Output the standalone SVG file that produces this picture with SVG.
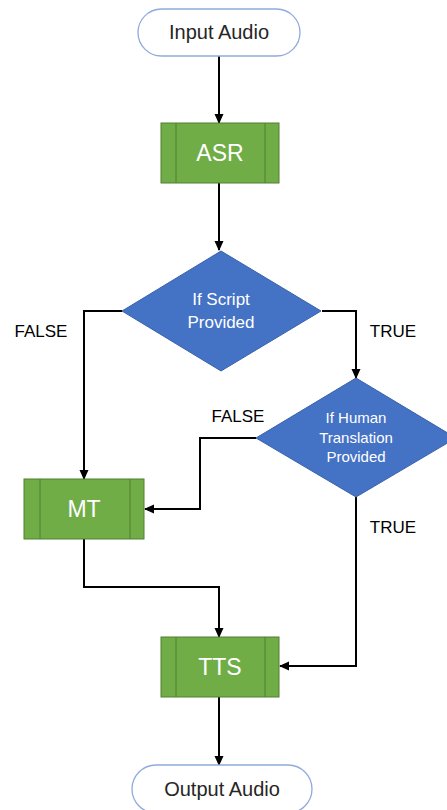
<svg xmlns="http://www.w3.org/2000/svg" width="447" height="810" viewBox="0 0 447 810">
<defs>
<marker id="arr" markerWidth="10" markerHeight="10" refX="9" refY="5" orient="auto" markerUnits="userSpaceOnUse">
<path d="M0,0.5 L10,5 L0,9.5 Z" fill="#000"/>
</marker>
<style>
.term{fill:#fff;stroke:#8FAADC;stroke-width:1.3}
.proc{fill:#70AD47;stroke:#507E32;stroke-width:1}
.dec{fill:#4472C4;stroke:#3A62AD;stroke-width:1}
.conn{fill:none;stroke:#000;stroke-width:2;marker-end:url(#arr)}
text{font-family:"Liberation Sans",Arial,sans-serif;text-anchor:middle}
.tt{font-size:20px;fill:#262626}
.pt{font-size:23px;fill:#fff}
.dt{fill:#fff}
.lb{font-size:17px;fill:#000}
</style>
</defs>
<rect width="447" height="810" fill="#fff"/>
<g id="connectors">
<path class="conn" d="M219,56 V123"/>
<path class="conn" d="M219,183 V250"/>
<path class="conn" d="M122,311 H84 V479"/>
<path class="conn" d="M322,311 H356 V378"/>
<path class="conn" d="M256,438 H200 V509 H145"/>
<path class="conn" d="M84,539 V587 H219 V637"/>
<path class="conn" d="M356,497 V666 H280"/>
<path class="conn" d="M219,697 V765"/>
</g>
<g id="labels">
<text class="lb" x="41" y="337">FALSE</text>
<text class="lb" x="393" y="337">TRUE</text>
<text class="lb" x="238" y="422">FALSE</text>
<text class="lb" x="393" y="533">TRUE</text>
</g>
<g id="input-audio">
<rect class="term" x="138" y="9" width="162" height="47" rx="23.5"/>
<text class="tt" x="219" y="39">Input Audio</text>
</g>
<g id="asr">
<rect class="proc" x="161" y="123" width="118" height="60"/>
<line x1="176" y1="123" x2="176" y2="183" stroke="#507E32"/>
<line x1="265" y1="123" x2="265" y2="183" stroke="#507E32"/>
<text class="pt" x="220" y="161">ASR</text>
</g>
<g id="if-script">
<polygon class="dec" points="221,251 321,311 221,371 122,311"/>
<text class="dt" x="221" y="305" font-size="17">If Script</text>
<text class="dt" x="221" y="328" font-size="17">Provided</text>
</g>
<g id="if-human">
<polygon class="dec" points="356,378 456,438 356,497 256,438"/>
<text class="dt" x="356" y="423" font-size="15">If Human</text>
<text class="dt" x="356" y="443" font-size="15">Translation</text>
<text class="dt" x="356" y="462" font-size="15">Provided</text>
</g>
<g id="mt">
<rect class="proc" x="24" y="479" width="120" height="60"/>
<line x1="40" y1="479" x2="40" y2="539" stroke="#507E32"/>
<line x1="130" y1="479" x2="130" y2="539" stroke="#507E32"/>
<text class="pt" x="84" y="517">MT</text>
</g>
<g id="tts">
<rect class="proc" x="161" y="637" width="118" height="60"/>
<line x1="176" y1="637" x2="176" y2="697" stroke="#507E32"/>
<line x1="265" y1="637" x2="265" y2="697" stroke="#507E32"/>
<text class="pt" x="220" y="675">TTS</text>
</g>
<g id="output-audio">
<rect class="term" x="132" y="765" width="180" height="48" rx="24"/>
<text class="tt" x="222" y="796">Output Audio</text>
</g>
</svg>
